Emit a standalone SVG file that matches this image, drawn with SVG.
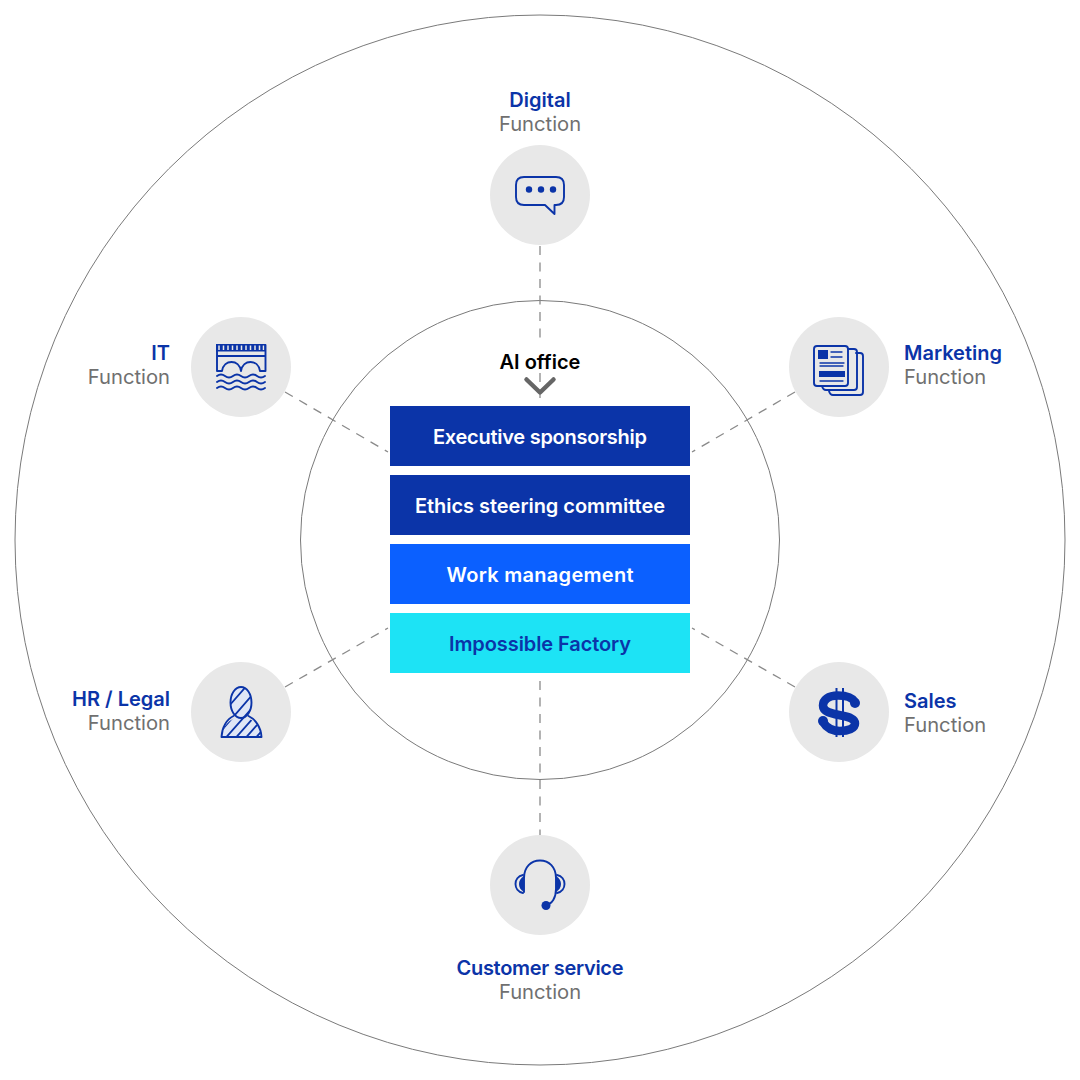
<svg xmlns="http://www.w3.org/2000/svg" width="1080" height="1080" viewBox="0 0 1080 1080">
<style>
text{font-family:"Inter","Liberation Sans",sans-serif}
.ring{fill:none;stroke:#7a7a7a;stroke-width:1}
.bub{fill:#e8e8e8}
.dash{fill:none;stroke:#8a8a8a;stroke-width:1.300;stroke-dasharray:9 7.500}
.t{font-size:20px;font-weight:600;fill:#0b34a8}
.s{font-size:20.200px;font-weight:400;fill:#707070}
.b{font-size:20px;font-weight:600;text-anchor:middle}
.ic{fill:none;stroke:#0b34a8;stroke-width:1.900;stroke-linejoin:round;stroke-linecap:round}
.fl{fill:#0b34a8}
.m{text-anchor:middle}
.e{text-anchor:end}
</style>
<rect width="1080" height="1080" fill="#fff"/>
<g id="rings">
<circle class="ring" cx="540" cy="540" r="525"/>
<circle class="ring" cx="540" cy="540" r="239.500"/>
</g>
<g id="connectors">
<path class="dash" d="M540 246V345"/>
<path class="dash" d="M540 373V398"/>
<path class="dash" d="M540 681V835"/>
<path class="dash" d="M285 392L388 452"/>
<path class="dash" d="M795 392L692 452"/>
<path class="dash" d="M285 687L388 628"/>
<path class="dash" d="M795 687L692 628"/>
<path d="M526.500 379.500L540 392.500L553.500 379.500" fill="none" stroke="#666" stroke-width="4.500" stroke-linecap="round" stroke-linejoin="round"/>
</g>
<g id="ai-office"><text class="b" x="540" y="369" fill="#000">AI office</text></g>
<g id="executive-sponsorship"><rect x="390" y="406" width="300" height="60" fill="#0b34a8"/><text class="b" x="540" y="444" fill="#fff" textLength="214">Executive sponsorship</text></g>
<g id="ethics-steering-committee"><rect x="390" y="475" width="300" height="60" fill="#0b34a8"/><text class="b" x="540" y="513" fill="#fff" textLength="250">Ethics steering committee</text></g>
<g id="work-management"><rect x="390" y="544" width="300" height="60" fill="#0b60ff"/><text class="b" x="540" y="582" fill="#fff" textLength="187">Work management</text></g>
<g id="impossible-factory"><rect x="390" y="613" width="300" height="60" fill="#1de3f5"/><text class="b" x="540" y="651" fill="#0b34a8" textLength="182">Impossible Factory</text></g>
<g id="digital">
<text class="t m" x="540" y="107">Digital</text><text class="s m" x="540" y="131">Function</text>
<circle class="bub" cx="540" cy="195" r="50"/>
<path class="ic" d="M524 177H556Q564 177 564 185V197Q564 205 556 205H554.500V214L545 205H524Q516 205 516 197V185Q516 177 524 177Z"/>
<circle class="fl" cx="529" cy="189.500" r="3.200"/><circle class="fl" cx="541" cy="189.500" r="3.200"/><circle class="fl" cx="553" cy="189.500" r="3.200"/>
</g>
<g id="it">
<text class="t e" x="170" y="360">IT</text><text class="s e" x="170" y="384">Function</text>
<circle class="bub" cx="241" cy="367" r="50"/>
<rect x="216" y="344" width="50" height="7.500" class="fl"/>
<path d="M219 345.500v4.500M223.500 345.500v4.500M228 345.500v4.500M232.500 345.500v4.500M237 345.500v4.500M241.500 345.500v4.500M246 345.500v4.500M250.500 345.500v4.500M255 345.500v4.500M259.500 345.500v4.500M263.500 345.500v4.500" stroke="#e8e8e8" stroke-width="1.500" fill="none"/>
<path class="ic" d="M217 345V371M265.500 345V371M217 356H265.500M217 371H222C223 365 227 362 231.500 362C236 362 240 365 241 371C242 365 246 362 250.500 362C255 362 259 365 260 371H265.500"/>
<path class="ic" d="M217 376q4 -3 8 0t8 0t8 0t8 0t8 0t8 0M217 382q4 -3 8 0t8 0t8 0t8 0t8 0t8 0M217 388q4 -3 8 0t8 0t8 0t8 0t8 0t8 0"/>
</g>
<g id="marketing">
<text class="t" x="904" y="360">Marketing</text><text class="s" x="904" y="384">Function</text>
<circle class="bub" cx="839" cy="367" r="50"/>
<path class="ic" d="M856 353H860Q863 353 863 356V392Q863 395 860 395H833Q830 395 829 391"/>
<path class="ic" d="M848 349H854Q857 349 857 352V387Q857 390 854 390H826Q823 390 822 386"/>
<rect class="ic" x="814" y="346" width="34" height="40" rx="3"/>
<rect class="fl" x="818" y="350" width="10" height="9"/>
<rect class="fl" x="819" y="371" width="26" height="6"/>
<path class="ic" style="stroke-width:1.300" d="M831 352H842M831 357H842M820 363H844M820 366H843M820 381H843"/>
</g>
<g id="hr-legal">
<text class="t e" x="170" y="706">HR / Legal</text><text class="s e" x="170" y="730">Function</text>
<circle class="bub" cx="241" cy="712" r="50"/>
<clipPath id="hc"><ellipse cx="241" cy="702.500" rx="10.500" ry="15.500"/><path d="M222 737C222 725 232 717 241 717C251 717 261 725 261 737Z"/></clipPath>
<g clip-path="url(#hc)"><rect x="220" y="686" width="43" height="52" fill="#dfe6f6"/>
<path d="M215 722L250 682M215 738L260 686M222 742L268 690M232 742L278 690M242 742L288 690M252 742L298 690" fill="none" stroke="#0b34a8" stroke-width="1.800"/></g>
<ellipse class="ic" cx="241" cy="702.500" rx="10.500" ry="15.500"/>
<path class="ic" d="M233.500 716C227 719 222 727 221.500 737H261.500C261 727 255 719 248.500 716"/>
</g>
<g id="sales">
<text class="t" x="904" y="708">Sales</text><text class="s" x="904" y="732">Function</text>
<circle class="bub" cx="839" cy="712" r="50"/>
<path d="M836.500 688V737M843 688V737" stroke="#0b34a8" stroke-width="2" fill="none"/>
<path d="M855 702C852 697 845 695.500 838 695.500C828 695.500 823 700 823 705.500C823 712 831 713.500 839 715C848 717 855 718 855 723.500C855 728.500 848 731 840 731C832 731 826 727 823 722" fill="none" stroke="#0b34a8" stroke-width="8.500"/>
<circle class="fl" cx="855" cy="703" r="5"/><circle class="fl" cx="823" cy="721" r="5"/>
</g>
<g id="customer-service">
<circle class="bub" cx="540" cy="885" r="50"/>
<path class="ic" d="M524 892V878C524 867 531 860.500 540 860.500C549 860.500 556 867 556 878V889C556 898 552 904 546 905"/>
<path class="ic" d="M523 875C518 876 515.500 880 515.500 884C515.500 888 518 892 523 893M557 875C562 876 564.500 880 564.500 884C564.500 888 562 892 557 893"/>
<path class="fl" d="M524 876C520.500 878 519 881 519 884C519 887 520.500 890 524 892ZM556 876C559.500 878 561 881 561 884C561 887 559.500 890 556 892Z"/>
<circle class="fl" cx="546" cy="905.500" r="4.500"/>
<text class="t m" x="540" y="975" textLength="167">Customer service</text><text class="s m" x="540" y="999">Function</text>
</g>
</svg>
